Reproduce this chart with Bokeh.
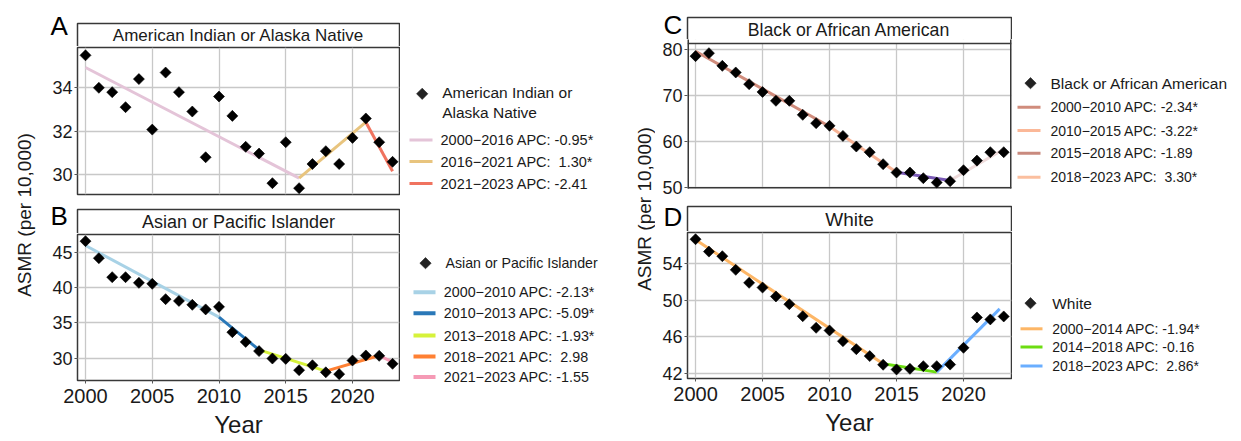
import math
from bokeh.plotting import figure
from bokeh.layouts import row, column
from bokeh.models import Range1d, FixedTicker, Span
from bokeh.core.properties import value
from bokeh.embed import file_html
from bokeh.resources import INLINE

FONT = "Liberation Sans"
TXT = "#1a1a1a"
FRAME = "#383838"

# ---------------- data ----------------
years = list(range(2000, 2024))

aian_asmr = [35.49, 34.00, 33.80, 33.11, 34.40, 32.08, 34.70, 33.80, 32.91, 30.81, 33.60, 32.71,
             31.29, 30.98, 29.62, 31.50, 29.39, 30.50, 31.09, 30.50, 31.70, 32.59, 31.50, 30.60]
api_asmr = [46.56, 44.15, 41.46, 41.46, 40.66, 40.52, 38.35, 38.10, 37.55, 36.90, 37.26, 33.68,
            32.30, 31.00, 29.95, 29.90, 28.30, 29.00, 28.00, 27.74, 29.67, 30.38, 30.33, 29.20]
black_asmr = [78.62, 79.27, 76.50, 75.05, 72.50, 70.80, 68.86, 68.86, 65.80, 63.98, 63.40, 61.20,
              58.88, 57.64, 55.02, 53.20, 53.20, 51.96, 51.00, 51.30, 53.70, 55.80, 57.64, 57.64]
white_asmr = [56.60, 55.26, 54.76, 53.28, 51.87, 51.36, 50.39, 49.55, 48.25, 46.99, 46.70, 45.54,
              44.67, 43.92, 42.98, 42.47, 42.54, 42.83, 42.83, 43.00, 44.82, 48.11, 47.90, 48.22]

# joinpoint fitted segments (as drawn)
aian_fit_years = [2000, 2016, 2021, 2023]
aian_fit_vals = [34.93, 29.85, 32.42, 30.17]
api_fit_years = [2000, 2010, 2013, 2018, 2022, 2023]
api_fit_vals = [45.94, 35.80, 31.18, 28.16, 30.38, 29.43]
black_fit_years = [2000, 2010, 2015, 2019, 2023]
black_fit_vals = [79.70, 63.25, 53.27, 51.46, 58.30]
white_fit_years = [2000, 2014, 2018, 2022.7]
white_fit_vals = [56.55, 43.09, 42.18, 49.05]

# group names
aian_name = "American Indian or Alaska Native"
api_name = "Asian or Pacific Islander"
black_name = "Black or African American"
white_name = "White"

# legend entries
aian_periods = ["2000\u22122016", "2016\u22122021", "2021\u22122023"]
aian_apc = ["-0.95*", "\u00a01.30*", "-2.41"]
api_periods = ["2000\u22122010", "2010\u22122013", "2013\u22122018", "2018\u22122021", "2021\u22122023"]
api_apc = ["-2.13*", "-5.09*", "-1.93*", "\u00a02.98", "-1.55"]
black_periods = ["2000\u22122010", "2010\u22122015", "2015\u22122018", "2018\u22122023"]
black_apc = ["-2.34*", "-3.22*", "-1.89", "\u00a03.30*"]
white_periods = ["2000\u22122014", "2014\u22122018", "2018\u22122023"]
white_apc = ["-1.94*", "-0.16", "\u00a02.86*"]

# tick labels
x_ticks = [2000, 2005, 2010, 2015, 2020]
aian_yticks = [30, 32, 34]
api_yticks = [30, 35, 40, 45]
black_yticks = [50, 60, 70, 80]
white_yticks = [42, 46, 50, 54]

# colours
aian_cols = ["#e4c4d8", "#e8c47e", "#f0735f"]
api_cols = ["#a8d2e6", "#2a78b8", "#d6f23a", "#ff8033", "#f59ab5"]
black_cols = ["#d08c7c", "#f8b496", "#7a5ab5", "#eedada"]
black_leg_cols = ["#d08c7c", "#fbb898", "#c98a7e", "#fbbf9f"]
white_cols = ["#fdb666", "#6cdd11", "#6aaeff"]


def no_align(p):
    if "frame_align" in p.properties():
        p.frame_align = False
    return p


def bare(w, h):
    p = figure(width=w, height=h, x_range=Range1d(0, w), y_range=Range1d(h, 0),
               output_backend="svg", toolbar_location=None,
               min_border=0, x_axis_location=None, y_axis_location=None)
    no_align(p)
    p.outline_line_color = None
    p.grid.visible = False
    p.background_fill_color = "white"
    p.border_fill_color = "white"
    return p


def header(w, h, sl, sr, st, title, title_size, letter, lxy, title_cy=None):
    p = bare(w, h)
    p.quad(left=[sl], right=[sr], top=[st], bottom=[h + 20], fill_color="white",
           line_color=FRAME, line_width=1.5)
    cy = title_cy if title_cy is not None else (st + h) / 2 + 0.5
    p.text(x=[(sl + sr) / 2], y=[cy], text=[title], text_align="center",
           text_baseline="middle", text_font=value(FONT), text_font_size=value(title_size),
           text_color=TXT)
    p.text(x=[lxy[0]], y=[lxy[1]], text=[letter], text_align="left",
           text_baseline="middle", text_font=value(FONT), text_font_size=value("26px"),
           text_color="black")
    return p


def panel(w, h, fl, fr, ft, fb, xr, yr, yticks, yvals, fit_x, fit_y, cols, show_x,
          plot_top=None):
    p = figure(width=w, height=h, x_range=Range1d(*xr), y_range=Range1d(*yr),
               output_backend="svg", toolbar_location=None,
               min_border_left=fl, min_border_right=w - fr, min_border_top=ft,
               min_border_bottom=h - fb,
               x_axis_location="below" if show_x else None)
    no_align(p)
    p.background_fill_color = "white"
    p.border_fill_color = "white"
    for g in p.xgrid:
        g.ticker = FixedTicker(ticks=x_ticks)
    for g in p.ygrid:
        g.ticker = FixedTicker(ticks=yticks)
    p.grid.grid_line_color = "#c8c8c8"
    p.grid.grid_line_width = 1.3
    for ax in p.yaxis:
        ax.ticker = FixedTicker(ticks=yticks)
        ax.axis_line_color = None
        ax.major_tick_out = 3
        ax.major_tick_in = 0
        ax.major_tick_line_color = "#555555"
        ax.minor_tick_line_color = None
        ax.major_label_text_font = FONT
        ax.major_label_text_font_size = "18px"
        ax.major_label_text_color = TXT
        ax.major_label_standoff = 2
    if show_x:
        for ax in p.xaxis:
            ax.ticker = FixedTicker(ticks=x_ticks)
            ax.axis_line_color = None
            ax.major_tick_out = 3
            ax.major_tick_in = 0
            ax.major_tick_line_color = "#555555"
            ax.minor_tick_line_color = None
            ax.major_label_text_font = FONT
            ax.major_label_text_font_size = "20px"
            ax.major_label_text_color = TXT
            ax.major_label_standoff = 5
            ax.axis_label = "Year"
            ax.axis_label_text_font = FONT
            ax.axis_label_text_font_size = "24px"
            ax.axis_label_text_font_style = "normal"
            ax.axis_label_text_color = TXT
            ax.axis_label_standoff = 5

    if plot_top is None:
        p.outline_line_color = FRAME
        p.outline_line_width = 1.5
    else:
        # the lower part of the header strip lies inside this frame
        p.outline_line_color = None
        sx = xr[1] - xr[0]
        sy = yr[1] - yr[0]
        p.quad(left=[xr[0] - sx], right=[xr[1] + sx], bottom=[plot_top], top=[yr[1] + sy],
               fill_color="white", line_color=None)
        p.add_layout(Span(location=plot_top, dimension="width", line_color=FRAME,
                          line_width=1.5))
        p.segment(x0=[xr[0], xr[1], xr[0]], y0=[yr[0] - sy, yr[0] - sy, yr[0]],
                  x1=[xr[0], xr[1], xr[1]], y1=[yr[1] + sy, yr[1] + sy, yr[0]],
                  line_color=FRAME, line_width=3)

    # fitted joinpoint segments
    p.segment(x0=fit_x[:-1], y0=fit_y[:-1], x1=fit_x[1:], y1=fit_y[1:],
              line_color=cols, line_width=3)
    # observed points
    p.scatter(years, yvals, marker="square", angle=math.pi / 4, size=7.8,
              fill_color="black", line_color="black", line_width=0.6)
    return p


def legend_fig(w, h, head, head_y, head_size, dia_xy, head_x, lx0, lx1, rows_y, text_x,
               periods, apcs, cols, lw, size):
    p = bare(w, h)
    p.scatter([dia_xy[0]], [dia_xy[1]], marker="square", angle=math.pi / 4, size=8,
              fill_color="#222222", line_color="#222222", line_width=0.6)
    p.text(x=[head_x] * len(head), y=head_y, text=head, text_baseline="middle",
           text_font=value(FONT), text_font_size=value(head_size), text_color=TXT)
    p.segment(x0=[lx0] * len(rows_y), y0=rows_y, x1=[lx1] * len(rows_y), y1=rows_y,
              line_color=cols, line_width=lw)
    labels = [f"{a} APC: {b}" for a, b in zip(periods, apcs)]
    p.text(x=[text_x] * len(rows_y), y=rows_y, text=labels, text_baseline="middle",
           text_font=value(FONT), text_font_size=value(size), text_color=TXT)
    return p


def ylabel_fig(w, cx, cy):
    p = bare(w, 441)
    p.text(x=[cx], y=[cy], text=["ASMR (per 10,000)"], angle=math.pi / 2,
           text_align="center", text_baseline="middle", text_font=value(FONT),
           text_font_size=value("19px"), text_color=TXT)
    return p


# left half (x 40..400 panels)
hA = header(360, 46, 37, 359, 23, aian_name, "17px", "A", (10, 25))
pA = panel(360, 154, 37, 359, 1, 148, (1999.40, 2023.52), (29.10, 35.85), aian_yticks,
           aian_asmr, aian_fit_years, aian_fit_vals, aian_cols, False)
hB = header(360, 33, 37, 359, 9, api_name, "18px", "B", (10, 15))
pB = panel(360, 208, 37, 359, 1, 147, (1999.40, 2023.52), (26.84, 47.5), api_yticks,
           api_asmr, api_fit_years, api_fit_vals, api_cols, True)

# right half (x 655..1012 panels)
hC = header(357, 39, 32, 356, 17, black_name, "17.7px", "C", (8, 24), title_cy=29)
pC = panel(357, 161, 32, 356, 0, 149, (1999.40, 2023.58), (49.71, 82.254), black_yticks,
           black_asmr, black_fit_years, black_fit_vals, black_cols, False, plot_top=81.38)
hD = header(357, 31, 32, 356, 6, white_name, "19px", "D", (8, 16))
pD = panel(357, 210, 32, 356, 1, 147, (1999.40, 2023.58), (41.49, 57.33), white_yticks,
           white_asmr, white_fit_years, white_fit_vals, white_cols, True)

lA = legend_fig(220, 200, ["American Indian or", "Alaska Native"], [92, 112], "15.5px",
                (21.7, 93.3), 41.7, 9, 32, [139.5, 161, 183], 40,
                aian_periods, aian_apc, aian_cols, 3, "14.5px")
lB = legend_fig(220, 241, [api_name], [62.5], "14.2px",
                (25, 62.7), 45, 13, 35, [91.7, 112.7, 135, 156, 176.5], 43.3,
                api_periods, api_apc, api_cols, 4, "14.3px")
lC = legend_fig(229, 200, [black_name], [82.7], "15.5px",
                (18, 82.7), 38, 5, 28, [106.7, 130, 152.7, 176.7], 38,
                black_periods, black_apc, black_leg_cols, 3, "14px")
lD = legend_fig(229, 241, [white_name], [102.7], "15.5px",
                (18, 102.7), 39.7, 8, 30, [128.3, 146.5, 165.5], 39.7,
                white_periods, white_apc, white_cols, 3, "14px")

yl1 = ylabel_fig(40, 24, 214.5)
yl2 = ylabel_fig(35, 24, 208.5)

layout = row(yl1, column(hA, pA, hB, pB), column(lA, lB),
             yl2, column(hC, pC, hD, pD), column(lC, lD))

open("out.html", "w").write(file_html(layout, INLINE))
